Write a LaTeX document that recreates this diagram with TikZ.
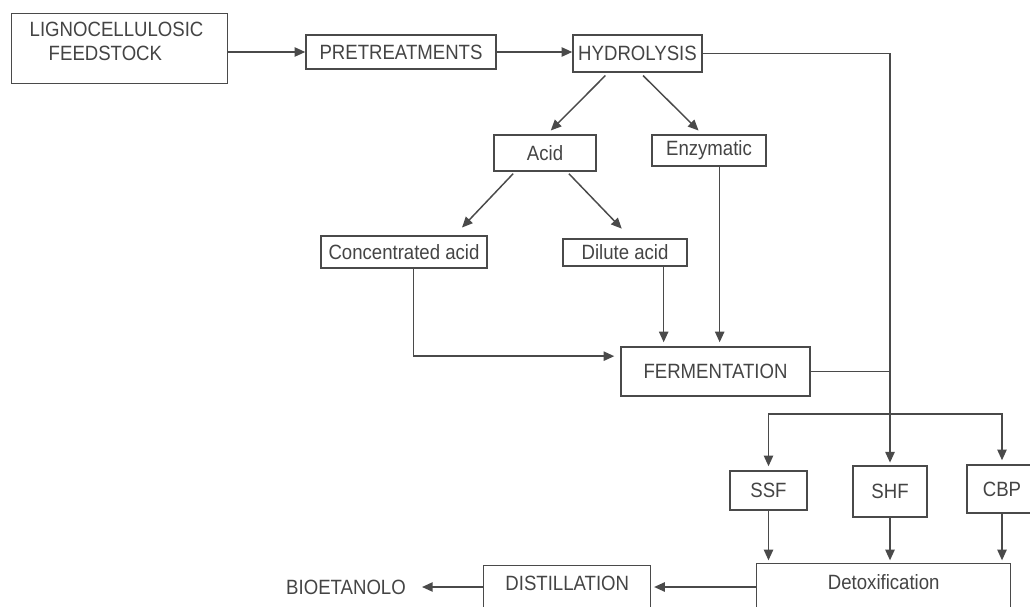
\documentclass[tikz,border=0pt]{standalone}
\usepackage{fontspec}
\setmainfont{Liberation Sans}[FakeStretch=0.9]
\usepackage{xcolor}
\usetikzlibrary{arrows.meta}
\definecolor{linegray}{HTML}{4a4a4a}
\definecolor{textgray}{HTML}{444444}

\begin{document}
\begin{tikzpicture}[x=0.75pt, y=-0.75pt,
    font=\fontsize{15.5}{18}\selectfont,
    box/.style={draw=linegray, line width=1.1pt, inner sep=0pt, text=textgray},
    arr/.style={-{Triangle[length=8pt, width=7pt]}, draw=linegray, line width=1.1pt}]
    \useasboundingbox (0,0) rectangle (1030,606);
    \clip (0,0) rectangle (1030,606);

    % top row
    \node[box, anchor=north west, minimum width=162pt, text height=17.25pt, text depth=35.25pt] (feed) at (11,13)
        {\parbox[t]{162pt}{\hspace*{13.5pt}LIGNOCELLULOSIC\\\hspace*{27.75pt}FEEDSTOCK}};
    \node[box, minimum width=142.5pt, minimum height=25.5pt] (pre) at (401,52) {PRETREATMENTS};
    \node[box, minimum width=96.75pt, minimum height=27.75pt] (hyd) at (637.5,53.5) {HYDROLYSIS};

    % hydrolysis routes
    \node[box, minimum width=76.5pt, minimum height=27pt] (acid) at (545,153) {Acid};
    \node[box, minimum width=85.5pt, minimum height=23.25pt] (enz) at (709,150.5) {Enzymatic};
    \node[box, minimum width=124.5pt, minimum height=24pt] (conc) at (404,252) {Concentrated acid};
    \node[box, minimum width=93pt, minimum height=20.25pt] (dil) at (625,252.5) {Dilute acid};

    % fermentation
    \node[box, minimum width=141.75pt, minimum height=36.75pt] (ferm) at (715.5,371.5) {FERMENTATION};
    \node[box, minimum width=57.75pt, minimum height=29.25pt] (ssf) at (768.5,490.5) {SSF};
    \node[box, minimum width=55.5pt, minimum height=38.25pt] (shf) at (890,491.5) {SHF};
    \node[box, minimum width=52.5pt, minimum height=36pt] (cbp) at (1002,489) {CBP};

    % bottom row
    \node[box, anchor=north west, minimum width=190.5pt, text height=19.5pt, text depth=45pt] (detox) at (756,563) {Detoxification};
    \node[box, anchor=north west, minimum width=125.25pt, text height=18.75pt, text depth=45pt] (dist) at (483,565) {DISTILLATION};
    \node[text=textgray, inner sep=0pt] (bio) at (346,587) {BIOETANOLO};

    % connectors
    \draw[arr] (feed.east |- pre.west) -- (pre.west);
    \draw[arr] (pre.east) -- (hyd.west |- pre.east);
    \draw[arr, shorten <=3pt, shorten >=4pt] ([xshift=-22pt]hyd.south) -- ([xshift=1.5pt]acid.north);
    \draw[arr, shorten <=3pt, shorten >=4pt] ([xshift=2pt]hyd.south) -- ([xshift=-5pt]enz.north);
    \draw[arr, shorten <=2pt, shorten >=8pt] ([xshift=-22.5pt]acid.south) -- ([xshift=38pt]conc.north);
    \draw[arr, shorten <=2pt, shorten >=10pt] ([xshift=16.5pt]acid.south) -- ([xshift=4.5pt]dil.north);

    \draw[arr, shorten >=4.5pt] ([xshift=7pt]conc.south) |- ([yshift=11.5pt]ferm.west);
    \draw[arr, shorten >=3pt] ([xshift=29pt]dil.south) -- ([xshift=29pt]dil.south |- ferm.north);
    \draw[arr, shorten >=3pt] ([xshift=8pt]enz.south) -- ([xshift=8pt]enz.south |- ferm.north);

    \draw[arr, shorten >=2pt] (hyd.east) -| (shf.north);
    \draw[draw=linegray, line width=1.1pt] (ferm.east) -- (ferm.east -| shf.north);
    \coordinate (split) at (890,414);
    \draw[arr, shorten >=3pt] (split) -| (ssf.north);
    \draw[arr, shorten >=3pt] (split) -| (cbp.north);

    \foreach \n in {ssf,shf,cbp}
        \draw[arr, shorten >=2pt] (\n.south) -- (\n.south |- detox.north);

    \draw[arr, shorten >=2pt] (detox.west |- bio.east) -- (dist.east |- bio.east);
    \draw[arr, shorten >=12pt] (dist.west |- bio.east) -- (bio.east);
\end{tikzpicture}
\end{document}
